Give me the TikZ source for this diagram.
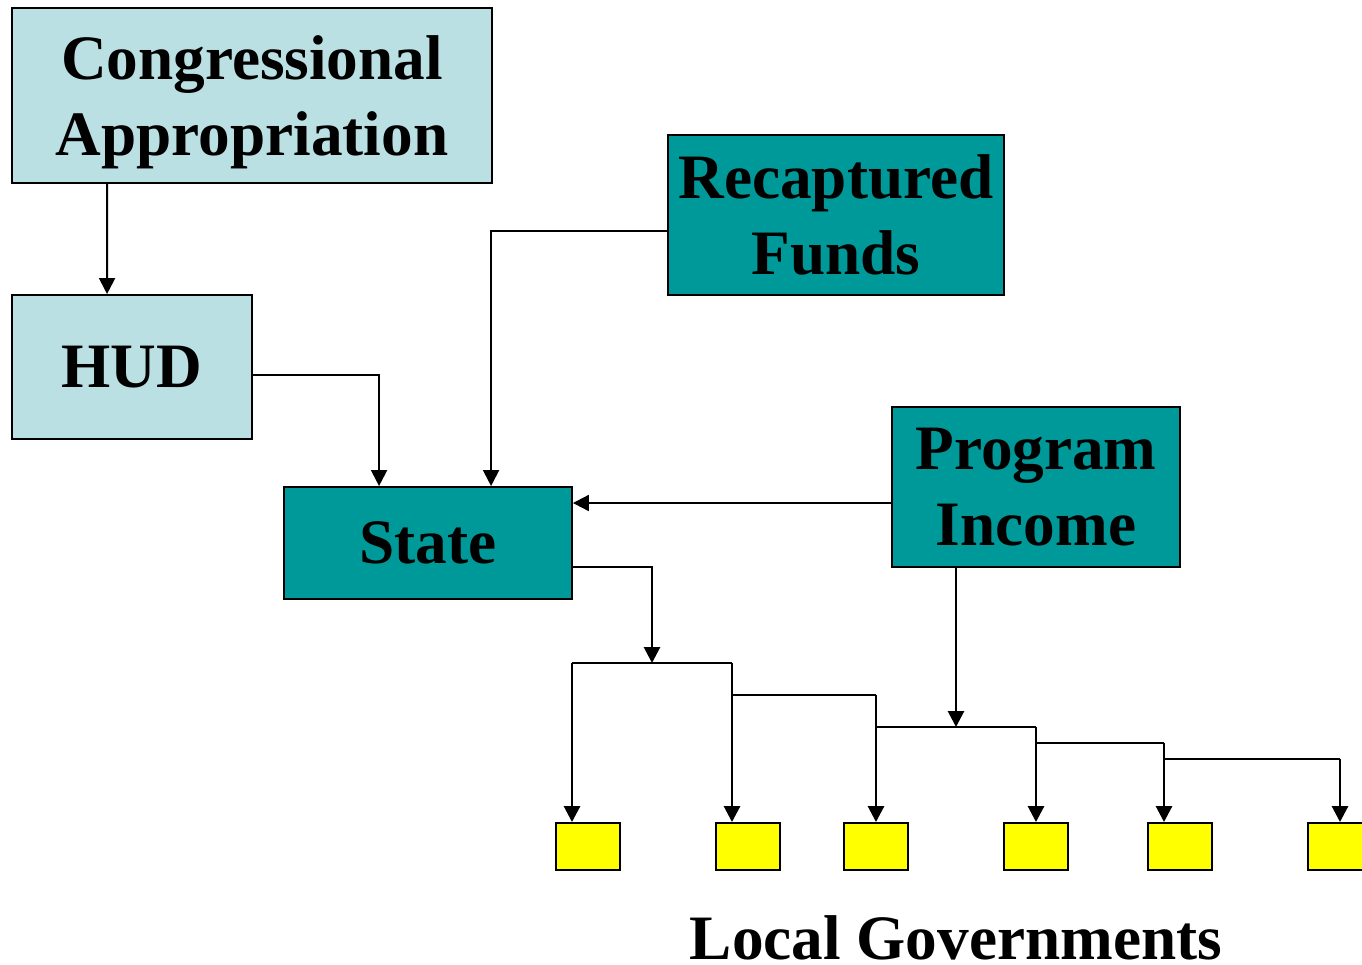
\documentclass[tikz,border=0pt]{standalone}
\usepackage{fontspec}
\setmainfont{Liberation Serif}
\usepackage{tikz}
\usetikzlibrary{positioning,arrows.meta,calc}
\definecolor{paleblue1}{HTML}{BBE0E3}
\definecolor{teal1}{HTML}{009999}
\definecolor{yellow1}{HTML}{FFFF00}

\begin{document}
\begin{tikzpicture}[
    x=0.02cm, y=-0.02cm,
    box/.style={draw, line width=1.1pt, inner sep=0pt,
                font=\fontsize{36}{43.5}\selectfont\bfseries,
                align=center},
    light/.style={box, fill=paleblue1},
    dark/.style={box, fill=teal1},
    lg/.style={draw, line width=1.1pt, fill=yellow1,
               minimum width=1.28cm, minimum height=0.94cm, inner sep=0pt},
    link/.style={line width=1.2pt, -{Triangle[length=9pt,width=9pt]}},
    wire/.style={line width=1.6pt},
]
\useasboundingbox (0,0) rectangle (1362,964);

\node[light, minimum width=9.6cm, minimum height=3.5cm] (cong) at (252,95.5)
    {\rule{0pt}{33pt}Congressional\\Appropriation};
\node[light, minimum width=4.8cm, minimum height=2.88cm] (hud) at (132,367)
    {HUD};
\node[dark, minimum width=6.72cm, minimum height=3.2cm] (recap) at (836,215)
    {Recaptured\\Funds};
\node[dark, minimum width=5.76cm, minimum height=3.2cm] (income) at (1036,487)
    {Program\\Income};
\node[dark, minimum width=5.76cm, minimum height=2.24cm] (state) at (428,543)
    {State};

% local governments
\foreach \i/\x in {1/588,2/748,3/876,4/1036,5/1180,6/1340}
    \node[lg] (lg\i) at (\x,846.5) {};
\node[font=\fontsize{36}{43.5}\selectfont\bfseries, anchor=base] (lgtext)
    at (956,959) {Local Governments};

% feeds into the state
\draw[link] ($(cong.south west)+(96,0)$) -- ($(hud.north west)+(96,0)$);
\draw[link] ($(hud.east)+(0,8)$) -| ($(state.north west)+(96,0)$);
\draw[link] ($(recap.west)+(0,16)$) -| ($(state.north west)+(208,0)$);
\draw[link] ($(income.west)+(0,16)$) coordinate (pin) -- (pin -| state.east);

% distribution tree
\coordinate (j1) at (652,663);
\coordinate (j3) at (956,727);
\coordinate (b2) at (0,695);
\coordinate (b4) at (0,743);
\coordinate (b5) at (0,759);
\coordinate (x1) at ([xshift=-0.32cm]lg1.north);
\coordinate (x2) at ([xshift=-0.32cm]lg2.north);
\coordinate (x3) at (lg3.north);
\coordinate (x4) at (lg4.north);
\coordinate (x5) at ([xshift=-0.32cm]lg5.north);
\coordinate (x6) at (lg6.north);

\draw[link, wire] ($(state.east)+(0,24)$) -| (j1);
\draw[link, wire] (income.south -| j3) -- (j3);

\draw[wire] (x1 |- j1) -- (x2 |- j1);
\draw[wire] (x2 |- b2) -- (x3 |- b2);
\draw[wire] (x3 |- j3) -- (x4 |- j3);
\draw[wire] (x4 |- b4) -- (x5 |- b4);
\draw[wire] (x5 |- b5) -- (x6 |- b5);

\draw[link, wire] (x1 |- j1) -- (x1);
\draw[link, wire] (x2 |- j1) -- (x2);
\draw[link, wire] (x3 |- b2) -- (x3);
\draw[link, wire] (x4 |- j3) -- (x4);
\draw[link, wire] (x5 |- b4) -- (x5);
\draw[link, wire] (x6 |- b5) -- (x6);
\end{tikzpicture}
\end{document}
